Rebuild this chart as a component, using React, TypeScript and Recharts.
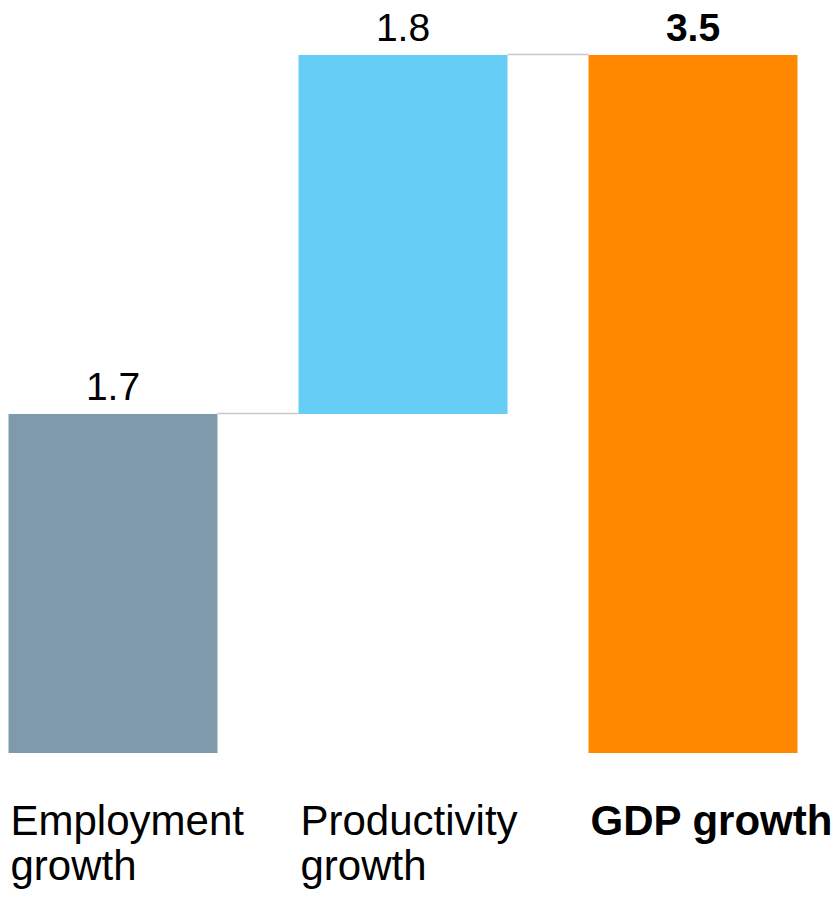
import React from 'react';
import { BarChart, Bar, XAxis, YAxis, LabelList } from 'recharts';

const categories = ['Employment growth', 'Productivity growth', 'GDP growth'];
const values = [1.7, 1.8, 3.5];
const isTotal = [false, false, true];
const barColors = ['#7f9bab', '#66cdf5', '#ff8800'];
const tickLines = [['Employment', 'growth'], ['Productivity', 'growth'], ['GDP growth']];

const bases: number[] = [];
{
  let cum = 0;
  values.forEach((v, i) => {
    if (isTotal[i]) {
      bases.push(0);
      cum = v;
    } else {
      bases.push(cum);
      cum += v;
    }
  });
}

const data = categories.map((c, i) => ({
  name: c,
  base: bases[i],
  value: values[i],
  index: i,
}));

const FONT = '"Liberation Sans", Arial, Helvetica, sans-serif';
const GAP = 40.5;
const BAND_HALF = 145;

const ValueShape = (props: any) => {
  const { x, y, width, height, index } = props;
  const i = index ?? props.payload?.index;
  return (
    <g>
      <rect x={x} y={y} width={width} height={height} fill={barColors[i]} />
      {i < categories.length - 1 && (
        <line
          x1={x + width}
          x2={x + width + GAP * 2}
          y1={y - 0.5}
          y2={y - 0.5}
          stroke="#c8c8c8"
          strokeWidth={1.5}
        />
      )}
    </g>
  );
};

const ValueLabel = (props: any) => {
  const { x, y, width, value, index } = props;
  const bold = isTotal[index];
  return (
    <text
      x={x + width / 2}
      y={y - 14}
      textAnchor="middle"
      fontSize={39}
      fontFamily={FONT}
      fontWeight={bold ? 'bold' : 'normal'}
      fill="#000"
    >
      {value}
    </text>
  );
};

const CategoryTick = (props: any) => {
  const { x, y, payload } = props;
  const i = categories.indexOf(payload.value);
  const lines = tickLines[i] || [payload.value];
  const left = x - BAND_HALF + GAP + 2;
  return (
    <text
      x={left}
      y={y}
      textAnchor="start"
      fontSize={42}
      fontFamily={FONT}
      fontWeight={isTotal[i] ? 'bold' : 'normal'}
      fill="#000"
    >
      {lines.map((l, k) => (
        <tspan key={k} x={left} y={y + 82 + k * 45}>
          {l}
        </tspan>
      ))}
    </text>
  );
};

export default function App() {
  return (
    <div style={{ marginLeft: -40.5, marginTop: -8, width: 870, height: 890 }}>
      <BarChart
        width={870}
        height={890}
        data={data}
        margin={{ top: 55, right: 0, left: 0, bottom: 2 }}
        barCategoryGap={GAP}
      >
        <XAxis
          dataKey="name"
          axisLine={false}
          tickLine={false}
          tickSize={0}
          tickMargin={0}
          height={135}
          interval={0}
          tick={<CategoryTick />}
        />
        <YAxis hide type="number" domain={[0, 3.5]} />
        <Bar dataKey="base" stackId="w" fill="transparent" isAnimationActive={false} />
        <Bar dataKey="value" stackId="w" shape={<ValueShape />} isAnimationActive={false}>
          <LabelList dataKey="value" content={<ValueLabel />} />
        </Bar>
      </BarChart>
    </div>
  );
}
